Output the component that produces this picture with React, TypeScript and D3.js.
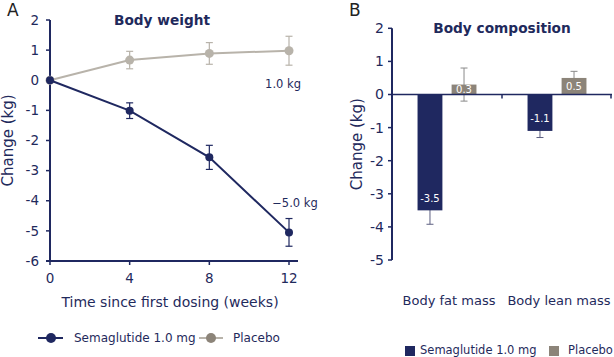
import React from "react";
import * as d3 from "d3";

const weeks = [0, 4, 8, 12];
const semaWeight = [0, -1.01, -2.56, -5.05];
const semaWeightErr = [0, 0.26, 0.4, 0.46];
const placeboWeight = [0, 0.67, 0.89, 0.98];
const placeboWeightErr = [0, 0.29, 0.36, 0.48];
const weightTicksY = [2, 1, 0, -1, -2, -3, -4, -5, -6];

const compCategories = ["Body fat mass", "Body lean mass"];
const semaComp = [-3.5, -1.1];
const semaCompErr = [0.42, 0.2];
const placeboComp = [0.3, 0.5];
const placeboCompErr = [0.5, 0.2];
const compTicksY = [2, 1, 0, -1, -2, -3, -4, -5];

const NAVY = "#1f2860";
const TEXT = "#1f2a5c";
const PLINE = "#b8b3aa";
const PBAR = "#8c8479";
const FONT = "'DejaVu Sans', Verdana, sans-serif";

export default function App() {
  // Panel A
  const xA = d3.scaleLinear().domain([0, 12]).range([50, 289]);
  const yA = d3.scaleLinear().domain([-6, 2]).range([261, 20]);
  const line = d3
    .line<number>()
    .x((_, i) => xA(weeks[i]))
    .y((d) => yA(d));

  // Panel B
  const xB = d3.scaleBand<string>().domain(compCategories).range([392, 612]);
  const inner = d3
    .scaleBand<string>()
    .domain(["s", "p"])
    .range([0, xB.bandwidth()])
    .paddingInner(0.27)
    .paddingOuter(0.75);
  const yB = d3.scaleLinear().domain([-5, 2]).range([260, 28.3]);

  const cap = 3.5;

  const errBar = (
    x: number,
    y1: number,
    y2: number,
    color: string,
    key: string,
    w = 1.2
  ) => (
    <g key={key} stroke={color} strokeWidth={w}>
      <line x1={x} x2={x} y1={y1} y2={y2} />
      <line x1={x - cap} x2={x + cap} y1={y1} y2={y1} />
      <line x1={x - cap} x2={x + cap} y1={y2} y2={y2} />
    </g>
  );

  return (
    <svg
      width={614}
      height={357}
      style={{ position: "absolute", left: 0, top: 0, background: "#fff" }}
      fontFamily={FONT}
    >
      {/* Panel labels */}
      <text x={7} y={16} fontSize={17} fill="#222">A</text>
      <text x={349} y={16} fontSize={17} fill="#222">B</text>

      {/* ===== Panel A ===== */}
      <text x={162} y={25} fontSize={13.7} fontWeight="bold" fill={TEXT} textAnchor="middle">
        Body weight
      </text>
      {/* y axis */}
      <line x1={50} x2={50} y1={yA(2)} y2={yA(-6)} stroke={NAVY} strokeWidth={2} />
      {weightTicksY.map((t) => (
        <g key={"ya" + t}>
          <line x1={46} x2={50} y1={yA(t)} y2={yA(t)} stroke={NAVY} strokeWidth={1.5} />
          <text x={39} y={yA(t)} dy="0.35em" fontSize={13.5} fill={TEXT} textAnchor="end">
            {t}
          </text>
        </g>
      ))}
      <text
        transform={`translate(8,${(yA(2) + yA(-6)) / 2}) rotate(-90)`}
        dy="0.35em"
        fontSize={15}
        fill={TEXT}
        textAnchor="middle"
      >
        Change (kg)
      </text>
      {/* x axis */}
      <line x1={46} x2={298} y1={yA(-6)} y2={yA(-6)} stroke={NAVY} strokeWidth={2} />
      {weeks.map((w) => (
        <g key={"xa" + w}>
          <line x1={xA(w)} x2={xA(w)} y1={yA(-6)} y2={yA(-6) + 4} stroke={NAVY} strokeWidth={1.5} />
          <text x={xA(w)} y={278} dy="0.35em" fontSize={13.5} fill={TEXT} textAnchor="middle">
            {w}
          </text>
        </g>
      ))}
      <text x={170} y={302} dy="0.35em" fontSize={14} fill={TEXT} textAnchor="middle">
        Time since first dosing (weeks)
      </text>

      {/* placebo series */}
      {weeks.map((w, i) =>
        placeboWeightErr[i] > 0
          ? errBar(
              xA(w),
              yA(placeboWeight[i] + placeboWeightErr[i]),
              yA(placeboWeight[i] - placeboWeightErr[i]),
              PLINE,
              "pe" + i
            )
          : null
      )}
      <path d={line(placeboWeight) || ""} fill="none" stroke={PLINE} strokeWidth={2} />
      {weeks.map((w, i) => (
        <circle key={"pc" + i} cx={xA(w)} cy={yA(placeboWeight[i])} r={4.5} fill={PLINE} />
      ))}

      {/* sema series */}
      {weeks.map((w, i) =>
        semaWeightErr[i] > 0
          ? errBar(
              xA(w),
              yA(semaWeight[i] + semaWeightErr[i]),
              yA(semaWeight[i] - semaWeightErr[i]),
              NAVY,
              "se" + i
            )
          : null
      )}
      <path d={line(semaWeight) || ""} fill="none" stroke={NAVY} strokeWidth={2} />
      {weeks.map((w, i) => (
        <circle key={"sc" + i} cx={xA(w)} cy={yA(semaWeight[i])} r={4} fill={NAVY} />
      ))}
      <text x={301} y={84} dy="0.35em" fontSize={11.5} fill={TEXT} textAnchor="end">
        1.0 kg
      </text>
      <text x={295} y={203} dy="0.35em" fontSize={11.5} fill={TEXT} textAnchor="middle">
        −5.0 kg
      </text>

      {/* legend A */}
      <line x1={38} x2={63} y1={338} y2={338} stroke={NAVY} strokeWidth={2} />
      <circle cx={51} cy={338} r={5} fill={NAVY} />
      <text x={74} y={338} dy="0.35em" fontSize={12} fill={TEXT}>
        Semaglutide 1.0 mg
      </text>
      <line x1={199} x2={223} y1={338} y2={338} stroke={PLINE} strokeWidth={2} />
      <circle cx={211} cy={338} r={5} fill={PBAR} />
      <text x={233} y={338} dy="0.35em" fontSize={12} fill={TEXT}>
        Placebo
      </text>

      {/* ===== Panel B ===== */}
      <text x={502} y={28} dy="0.35em" fontSize={13.7} fontWeight="bold" fill={TEXT} textAnchor="middle">
        Body composition
      </text>
      {compTicksY.map((t) => (
        <g key={"yb" + t}>
          <line x1={388} x2={392} y1={yB(t)} y2={yB(t)} stroke={NAVY} strokeWidth={1.5} />
          <text x={384} y={yB(t)} dy="0.35em" fontSize={14} fill={TEXT} textAnchor="end">
            {t}
          </text>
        </g>
      ))}
      <text
        transform={`translate(357,${(yB(2) + yB(-5)) / 2}) rotate(-90)`}
        dy="0.35em"
        fontSize={15}
        fill={TEXT}
        textAnchor="middle"
      >
        Change (kg)
      </text>

      {/* error bars behind bars */}
      {compCategories.map((c, i) => {
        const xs = (xB(c) || 0) + (inner("s") || 0) + inner.bandwidth() / 2;
        const xp = (xB(c) || 0) + (inner("p") || 0) + inner.bandwidth() / 2;
        return (
          <g key={"eb" + i}>
            {errBar(xs, yB(semaComp[i] + semaCompErr[i]), yB(semaComp[i] - semaCompErr[i]), "#5c5f80", "es" + i, 1)}
            {errBar(xp, yB(placeboComp[i] + placeboCompErr[i]), yB(placeboComp[i] - placeboCompErr[i]), "#8a8a8a", "ep" + i, 1)}
          </g>
        );
      })}

      {/* bars */}
      {compCategories.map((c, i) => {
        const bars = [
          { k: "s", v: semaComp[i], fill: NAVY },
          { k: "p", v: placeboComp[i], fill: PBAR },
        ];
        return bars.map((b) => {
          const x = (xB(c) || 0) + (inner(b.k) || 0);
          const y0 = yB(0);
          const y1 = yB(b.v);
          const top = Math.min(y0, y1);
          const h = Math.abs(y1 - y0);
          const off = Math.min(10, h / 2);
          const ly = b.v < 0 ? y1 - off - 2 : y1 + off;
          return (
            <g key={c + b.k}>
              <rect x={x} y={top} width={inner.bandwidth()} height={h} fill={b.fill} />
              <text
                x={x + inner.bandwidth() / 2}
                y={ly}
                dy="0.35em"
                fontSize={10}
                fill="#fff"
                textAnchor="middle"
              >
                {b.v.toFixed(1)}
              </text>
            </g>
          );
        });
      })}

      {/* y axis and zero axis */}
      <line x1={392} x2={392} y1={yB(2)} y2={yB(-5)} stroke={NAVY} strokeWidth={2} />
      <line x1={392} x2={612} y1={yB(0)} y2={yB(0)} stroke={NAVY} strokeWidth={1.5} />
      {[0, 1].map((i) => {
        const xx = i === 0 ? (xB(compCategories[1]) || 0) : 611;
        return (
          <line key={"bt" + i} x1={xx} x2={xx} y1={yB(0)} y2={yB(0) + 4} stroke={NAVY} strokeWidth={1.5} />
        );
      })}
      {compCategories.map((c) => (
        <text
          key={"cl" + c}
          x={(xB(c) || 0) + xB.bandwidth() / 2 + 2}
          y={300}
          dy="0.35em"
          fontSize={13}
          fill={TEXT}
          textAnchor="middle"
        >
          {c}
        </text>
      ))}

      {/* legend B */}
      <rect x={405} y={346} width={10} height={10} fill={NAVY} />
      <text x={420} y={350} dy="0.35em" fontSize={11.5} fill={TEXT}>
        Semaglutide 1.0 mg
      </text>
      <rect x={549} y={346} width={10} height={10} fill={PBAR} />
      <text x={568} y={350} dy="0.35em" fontSize={11.5} fill={TEXT}>
        Placebo
      </text>
    </svg>
  );
}
